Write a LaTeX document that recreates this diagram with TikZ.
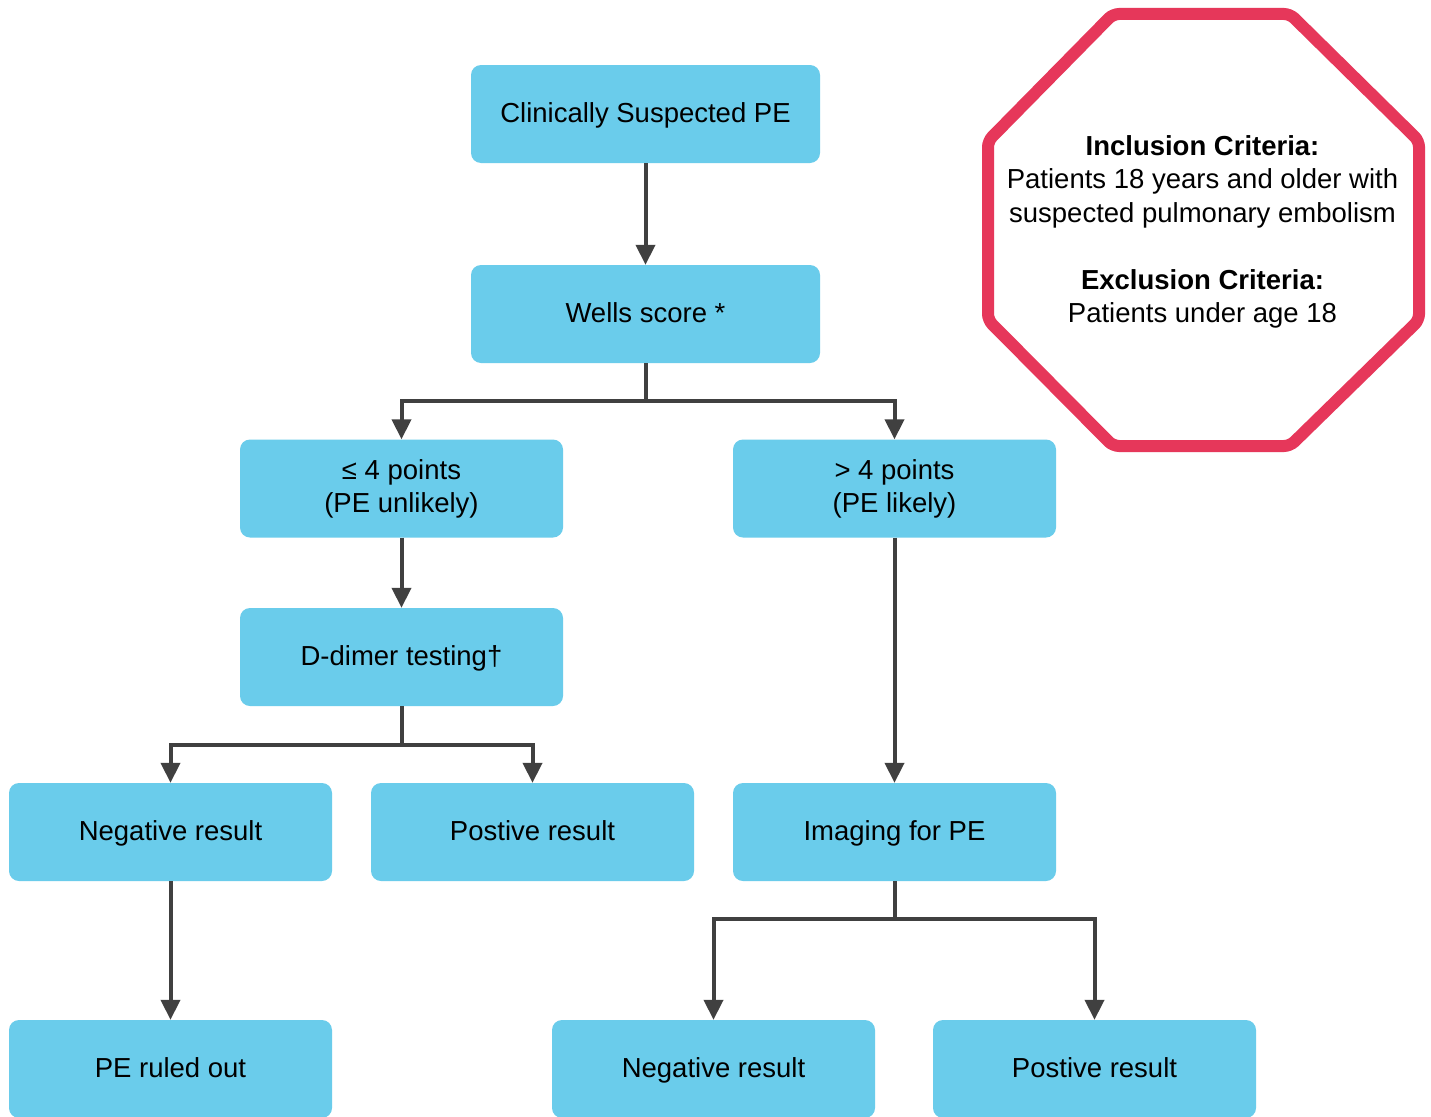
\documentclass[tikz,border=0pt]{standalone}
\usepackage{fontspec}
\setmainfont{Liberation Sans}
\usetikzlibrary{arrows.meta}
\definecolor{boxblue}{HTML}{6ACCEB}
\definecolor{linegray}{HTML}{404040}
\definecolor{stopred}{HTML}{E6375A}
\begin{document}
\begin{tikzpicture}[x=1pt,y=-1pt,
  basebox/.style={fill=boxblue, rounded corners=10pt, minimum width=323pt, minimum height=98pt,
    inner sep=0pt, align=center, font=\fontsize{27.5}{33}\selectfont},
  flowbox/.style={basebox, text height=22pt, text depth=4.3pt},
  twoline/.style={basebox},
  widebox/.style={flowbox, minimum width=349pt},
  arr/.style={draw=linegray, line width=4pt, -{Triangle[length=20pt,width=19pt]}}
]
\clip (0,0) rectangle (1431,1116);
\fill[white] (0,0) rectangle (1431,1116);

% boxes
\node[widebox] (start) at (645.5,114) {Clinically Suspected PE};
\node[widebox] (wells) at (645.5,314) {Wells score *};
\node[twoline] (le4) at (401.5,488.5) {≤ 4 points\\(PE unlikely)};
\node[twoline] (gt4) at (894.5,488.5) {> 4 points\\(PE likely)};
\node[flowbox] (ddimer) at (401.5,657) {D-dimer testing†};
\node[flowbox] (negA) at (170.5,832) {Negative result};
\node[flowbox] (posA) at (532.5,832) {Postive result};
\node[flowbox] (imaging) at (894.5,832) {Imaging for PE};
\node[flowbox] (ruled) at (170.5,1069) {PE ruled out};
\node[flowbox] (negB) at (713.5,1069) {Negative result};
\node[flowbox] (posB) at (1094.5,1069) {Postive result};

% connectors
\draw[arr] (start.south) -- (wells.north);
\draw[arr] (wells.south) -- ++(0,38) -| (le4.north);
\draw[arr] (wells.south) -- ++(0,38) -| (gt4.north);
\draw[arr] (le4.south) -- (ddimer.north);
\draw[arr] (ddimer.south) -- ++(0,39) -| (negA.north);
\draw[arr] (ddimer.south) -- ++(0,39) -| (posA.north);
\draw[arr] (gt4.south) -- (imaging.north);
\draw[arr] (negA.south) -- (ruled.north);
\draw[arr] (imaging.south) -- ++(0,38) -| (negB.north);
\draw[arr] (imaging.south) -- ++(0,38) -| (posB.north);

% octagon
\draw[stopred, line width=12pt, rounded corners=6pt]
  (1113,14) -- (1290,14) -- (1419,141) -- (1419,320) -- (1290,446) -- (1113,446)
  -- (988,320) -- (988,141) -- cycle;
\node[align=center, font=\fontsize{27.5}{33.5}\selectfont] (criteria) at (1202.5,232)
  {\textbf{Inclusion Criteria:}\\Patients 18 years and older with\\suspected pulmonary embolism\\[33.5pt]
   \textbf{Exclusion Criteria:}\\Patients under age 18};
\end{tikzpicture}
\end{document}
